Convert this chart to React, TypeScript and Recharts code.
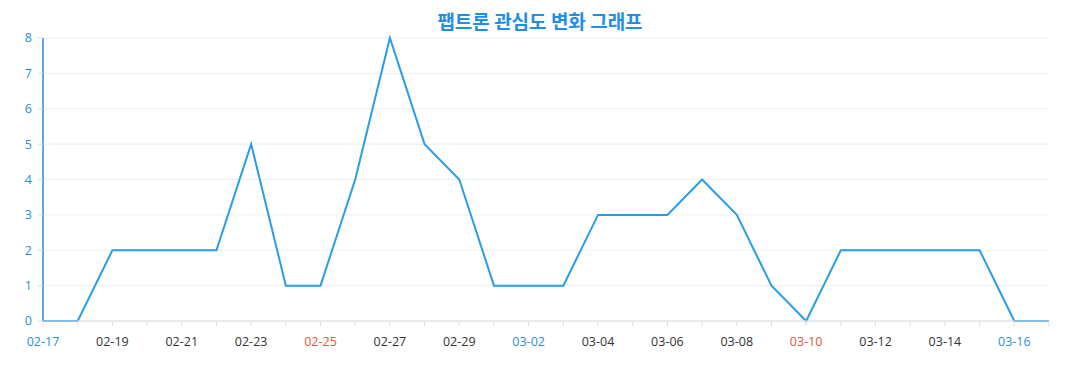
import React from "react";
import { LineChart, Line, XAxis, YAxis, CartesianGrid } from "recharts";

const dates = [
  "02-17","02-18","02-19","02-20","02-21","02-22","02-23","02-24","02-25","02-26",
  "02-27","02-28","02-29","03-01","03-02","03-03","03-04","03-05","03-06","03-07",
  "03-08","03-09","03-10","03-11","03-12","03-13","03-14","03-15","03-16","03-17",
];
const values = [0,0,2,2,2,2,5,1,1,4,8,5,4,1,1,1,3,3,3,4,3,1,0,2,2,2,2,2,0,0];
const saturdays = ["02-17","02-24","03-02","03-09","03-16"];
const sundays = ["02-18","02-25","03-03","03-10","03-17"];
const yTicks = [0,1,2,3,4,5,6,7,8];

const data = dates.map((d, i) => ({ date: d, value: values[i] }));

const FONT = "'Open Sans', 'Noto Sans', sans-serif";

const XTick = (props: any) => {
  const { x, y, payload, index } = props;
  if (index % 2 !== 0) return null;
  const d = payload.value as string;
  const color = saturdays.includes(d) ? "#2a8fd0" : sundays.includes(d) ? "#e0553c" : "#333";
  return (
    <text x={x} y={y + 18} textAnchor="middle" fill={color} fontSize={12.5} fontFamily={FONT}>
      {d}
    </text>
  );
};

export default function App() {
  return (
    <div style={{ position: "relative", width: 1069, height: 382 }}>
      <div
        style={{
          position: "absolute",
          top: 0,
          left: 0,
          width: 1064,
          textAlign: "center",
          fontFamily: "'Noto Sans CJK KR', sans-serif",
          fontWeight: 700,
          fontSize: 19,
          color: "#1f8ee3",
          lineHeight: "26px",
        }}
      >
        팹트론 관심도 변화 그래프
      </div>
      <LineChart
        width={1069}
        height={382}
        data={data}
        margin={{ top: 30, right: 28, left: 10, bottom: 39 }}
      >
        <CartesianGrid vertical={false} stroke="#eeeeee" />
        <XAxis
          dataKey="date"
          interval={0}
          tick={<XTick />}
          tickLine={{ stroke: "#dddddd" }}
          axisLine={{ stroke: "#dddddd" }}
          tickSize={5}
          height={30}
        />
        <YAxis
          domain={[0, 8]}
          ticks={yTicks}
          width={25}
          tick={{ fill: "#2a8fd0", fontSize: 12.5, fontFamily: FONT, dx: -4 }}
          tickLine={{ stroke: "#dddddd" }}
          axisLine={{ stroke: "#5aa9e6", strokeWidth: 2 }}
          tickSize={5}
        />
        <Line
          type="linear"
          dataKey="value"
          stroke="#2a9de8"
          strokeWidth={2}
          dot={false}
          isAnimationActive={false}
        />
      </LineChart>
    </div>
  );
}
